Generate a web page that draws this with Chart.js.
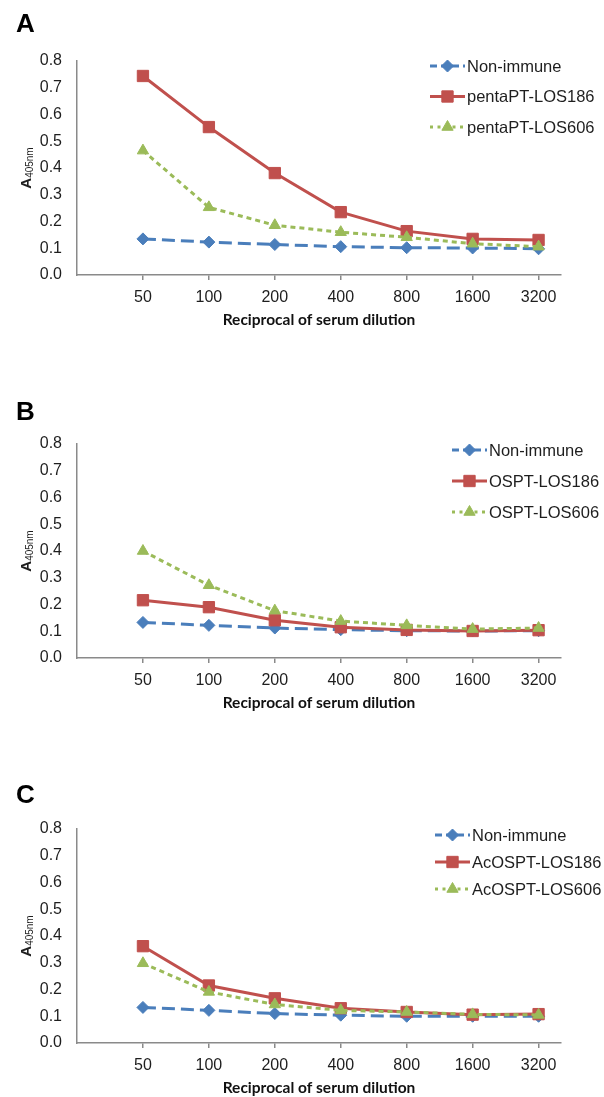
<!DOCTYPE html>
<html>
<head>
<meta charset="utf-8">
<script src="https://cdn.jsdelivr.net/npm/chart.js@4.4.0/dist/chart.umd.min.js"></script>
<style>
  html, body { margin: 0; padding: 0; background: #fff; overflow: hidden; }
  .panel { position: relative; width: 604px; }
  #boxA { height: 383px; }
  #boxB { height: 385px; }
  #boxC { height: 329px; }
</style>
</head>
<body>
<div class="panel" id="boxA"><canvas id="chartA"></canvas></div>
<div class="panel" id="boxB"><canvas id="chartB"></canvas></div>
<div class="panel" id="boxC"><canvas id="chartC"></canvas></div>
<script>
// reciprocal of serum dilution (categories)
const dilutions = ['50', '100', '200', '400', '800', '1600', '3200'];

// panel A
const nonImmuneA = [0.135, 0.123, 0.114, 0.106, 0.102, 0.101, 0.098];
const pentaPT186 = [0.744, 0.553, 0.381, 0.235, 0.164, 0.135, 0.131];
const pentaPT606 = [0.465, 0.253, 0.186, 0.160, 0.141, 0.117, 0.106];

// panel B
const nonImmuneB = [0.133, 0.122, 0.112, 0.106, 0.102, 0.101, 0.102];
const ospt186 = [0.216, 0.190, 0.141, 0.115, 0.105, 0.101, 0.104];
const ospt606 = [0.400, 0.272, 0.177, 0.138, 0.122, 0.108, 0.112];

// panel C
const nonImmuneC = [0.133, 0.122, 0.110, 0.104, 0.100, 0.100, 0.100];
const acospt186 = [0.362, 0.215, 0.167, 0.130, 0.116, 0.106, 0.108];
const acospt606 = [0.298, 0.191, 0.144, 0.122, 0.116, 0.107, 0.105];

const BLUE = '#4A7EBB', RED = '#C0504D', GREEN = '#9BBB59';
const AXIS = '#8a8a8a', INK = '#1e1e1e';

function toPoints(values) {
    return values.map((v, i) => ({ x: i + 1, y: v }));
}

// letter, y-axis title and legend drawn on the canvas
const panelDecor = {
    id: 'panelDecor',
    afterDraw(chart, args, opts) {
        const ctx = chart.ctx;
        const area = chart.chartArea;
        ctx.save();

        ctx.fillStyle = '#000';
        ctx.font = 'bold 26px "Liberation Sans"';
        ctx.textBaseline = 'alphabetic';
        ctx.textAlign = 'left';
        ctx.fillText(opts.letter, 16, opts.letterY);

        // A with subscript 405nm, rotated
        ctx.save();
        const mid = (area.top + area.bottom) / 2;
        ctx.translate(31, mid);
        ctx.rotate(-Math.PI / 2);
        ctx.font = 'bold 15px "Liberation Sans"';
        const wA = ctx.measureText('A').width;
        ctx.font = '10px "Liberation Sans"';
        const wSub = ctx.measureText('405nm').width;
        const start = -(wA + wSub) / 2;
        ctx.fillStyle = INK;
        ctx.font = 'bold 15px "Liberation Sans"';
        ctx.fillText('A', start, 0);
        ctx.font = '10px "Liberation Sans"';
        ctx.fillText('405nm', start + wA, 2);
        ctx.restore();

        // legend
        chart.data.datasets.forEach((ds, i) => {
            const y = opts.legendY + i * opts.legendGap;
            const x0 = opts.legendX;
            ctx.strokeStyle = ds.borderColor;
            ctx.lineWidth = ds.borderWidth;
            ctx.setLineDash(ds.legendDash || []);
            ctx.beginPath();
            ctx.moveTo(x0, y);
            ctx.lineTo(x0 + 35, y);
            ctx.stroke();
            ctx.setLineDash([]);
            ctx.fillStyle = ds.pointBackgroundColor;
            ctx.strokeStyle = ds.pointBorderColor;
            ctx.lineWidth = ds.pointBorderWidth;
            Chart.helpers.drawPoint(ctx, {
                pointStyle: ds.pointStyle,
                radius: ds.pointRadius,
                borderWidth: ds.pointBorderWidth,
                rotation: 0
            }, x0 + 17.5, y);
            ctx.fillStyle = INK;
            ctx.font = '16.5px "Liberation Sans"';
            ctx.textBaseline = 'middle';
            ctx.fillText(ds.label, x0 + 37, y + 1);
        });

        ctx.restore();
    }
};

function makeChart(canvasId, boxHeight, letter, letterY, legend, labels, series) {
    const styles = [
        { color: BLUE, dash: [13, 6], legendDash: [7, 4], point: 'rectRot', radius: 6, order: 3 },
        { color: RED, dash: [], legendDash: [], point: 'rect', radius: 8, order: 2 },
        { color: GREEN, dash: [5, 4], legendDash: [3, 4.5], point: 'triangle', radius: 6.5, order: 1 }
    ];
    const datasets = series.map((values, i) => ({
        label: labels[i],
        data: toPoints(values),
        borderColor: styles[i].color,
        borderWidth: 3,
        borderDash: styles[i].dash,
        legendDash: styles[i].legendDash,
        pointStyle: styles[i].point,
        pointRadius: styles[i].radius,
        pointBackgroundColor: styles[i].color,
        pointBorderColor: styles[i].color,
        pointBorderWidth: 1,
        tension: 0,
        order: styles[i].order,
        clip: false
    }));

    return new Chart(document.getElementById(canvasId), {
        type: 'line',
        data: { datasets: datasets },
        plugins: [panelDecor],
        options: {
            responsive: true,
            maintainAspectRatio: false,
            animation: false,
            events: [],
            layout: { padding: { left: 0, right: 43, top: 61, bottom: boxHeight - 275 - 54 } },
            plugins: {
                legend: { display: false },
                tooltip: { enabled: false },
                panelDecor: { letter: letter, letterY: letterY,
                              legendX: legend.x, legendY: legend.y, legendGap: legend.gap }
            },
            scales: {
                x: {
                    type: 'linear',
                    min: 0,
                    max: 7.34,
                    afterBuildTicks: s => { s.ticks = dilutions.map((d, i) => ({ value: i + 1 })); },
                    afterFit: s => { s.height = 54; },
                    ticks: {
                        callback: v => dilutions[Math.round(v) - 1],
                        autoSkip: false,
                        maxRotation: 0,
                        padding: 8,
                        color: INK,
                        font: { family: 'Liberation Sans', size: 16 }
                    },
                    grid: { display: true, drawOnChartArea: false, drawTicks: true,
                            tickLength: 5, color: AXIS, lineWidth: 1.5 },
                    border: { display: true, color: AXIS, width: 1.5 },
                    title: {
                        display: true,
                        text: 'Reciprocal of serum dilution',
                        color: '#111',
                        padding: 0,
                        font: { family: 'Lato', weight: 'bold', size: 15.5 }
                    }
                },
                y: {
                    min: 0,
                    max: 0.8,
                    afterFit: s => { s.width = 77; },
                    ticks: {
                        stepSize: 0.1,
                        callback: v => v.toFixed(1),
                        padding: 15,
                        color: INK,
                        font: { family: 'Liberation Sans', size: 16 }
                    },
                    grid: { display: false, drawTicks: false },
                    border: { display: true, color: AXIS, width: 1.5 }
                }
            }
        }
    });
}

makeChart('chartA', 383, 'A', 32, { x: 430, y: 66, gap: 30.5 },
    ['Non-immune', 'pentaPT-LOS186', 'pentaPT-LOS606'],
    [nonImmuneA, pentaPT186, pentaPT606]);

makeChart('chartB', 385, 'B', 37, { x: 452, y: 67, gap: 31 },
    ['Non-immune', 'OSPT-LOS186', 'OSPT-LOS606'],
    [nonImmuneB, ospt186, ospt606]);

makeChart('chartC', 329, 'C', 35, { x: 435, y: 67, gap: 27 },
    ['Non-immune', 'AcOSPT-LOS186', 'AcOSPT-LOS606'],
    [nonImmuneC, acospt186, acospt606]);
</script>
</body>
</html>
